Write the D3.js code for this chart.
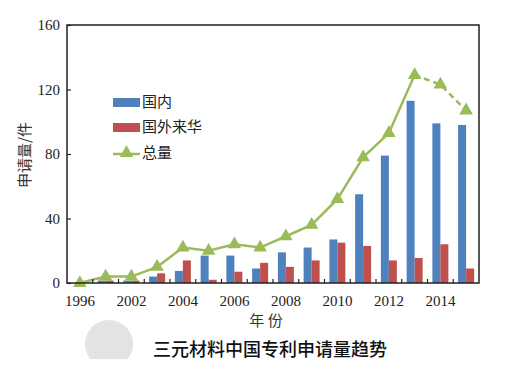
<!DOCTYPE html>
<html><head><meta charset="utf-8">
<script src="https://cdn.jsdelivr.net/npm/d3@7"></script>
<style>body{margin:0;background:#fff;}svg{display:block;}</style>
</head><body>
<svg id="c" width="516" height="369"></svg>
<script>
const years = ["1996","2001","2002","2003","2004","2005","2006","2007","2008","2009","2010","2011","2012","2013","2014","2015"];
const domestic = [0,1.5,1.5,4,7.5,17,17,9,19,22,27,55,79,113,99,98];
const foreign = [0,1.5,1.5,6,14,2,7,12.5,10,14,25,23,14,15.5,24,9];
const total = [0,4,4,10,22,20,24,22,29,36,52,78,93,129,123,107];
const yTicks = [0,40,80,120,160];
const labels = {series:["国内","国外来华","总量"], yTitle:"申请量/件", xTitle:"年 份", caption:"三元材料中国专利申请量趋势"};

const svg = d3.select("#c");
const m = {l:67, r:479, t:25, b:283};
const x = d3.scaleBand().domain(years).range([m.l, m.r]);
const y = d3.scaleLinear().domain([0,160]).range([m.b, m.t]);
const serif = "'Liberation Serif','Times New Roman',serif";
const cjk = "'Noto Sans CJK SC','Noto Sans',sans-serif";

// bars
const bw = 8;
svg.append("g").selectAll("rect").data(years).join("rect")
  .attr("x", d => x(d) + x.bandwidth()/2 - bw)
  .attr("y", (d,i) => y(domestic[i]))
  .attr("width", bw).attr("height", (d,i) => y(0)-y(domestic[i]))
  .attr("fill", "#4F81BD");
svg.append("g").selectAll("rect").data(years).join("rect")
  .attr("x", d => x(d) + x.bandwidth()/2)
  .attr("y", (d,i) => y(foreign[i]))
  .attr("width", bw).attr("height", (d,i) => y(0)-y(foreign[i]))
  .attr("fill", "#C0504D");

// line
const pts = years.map((d,i) => [x(d)+x.bandwidth()/2, y(total[i])]);
const line = d3.line();
svg.append("path").attr("d", line(pts.slice(0,14))).attr("fill","none")
  .attr("stroke","#9BBB59").attr("stroke-width",2.5);
svg.append("path").attr("d", line(pts.slice(13))).attr("fill","none")
  .attr("stroke","#9BBB59").attr("stroke-width",2.5).attr("stroke-dasharray","6,4");
const tri = d3.symbol().type(d3.symbolTriangle).size(80);
svg.append("g").selectAll("path").data(pts).join("path")
  .attr("d", tri).attr("transform", p => `translate(${p[0]},${p[1]})`)
  .attr("fill","#9BBB59");

// frame
svg.append("rect").attr("x",m.l).attr("y",m.t).attr("width",m.r-m.l).attr("height",m.b-m.t)
  .attr("fill","none").attr("stroke","#222").attr("stroke-width",1.5);

// y axis
const ya = svg.append("g").attr("transform",`translate(${m.l},0)`)
  .call(d3.axisLeft(y).tickValues(yTicks).tickSize(-4).tickPadding(7));
ya.select(".domain").remove();
ya.selectAll("line").attr("stroke","#222").attr("stroke-width",1.2);
ya.selectAll("text").attr("font-family",serif).attr("font-size",15).attr("fill","#222");

// x axis: ticks at category boundaries
const xa = svg.append("g").attr("transform",`translate(0,${m.b})`)
  .call(d3.axisBottom(x).tickSize(0).tickPadding(12).tickFormat((d,i)=> i%2===0 ? d : ""));
xa.select(".domain").remove();
xa.selectAll("text").attr("font-family",serif).attr("font-size",15).attr("fill","#222");
svg.append("g").selectAll("line").data(years.slice(1)).join("line")
  .attr("x1", d => x(d)).attr("x2", d => x(d))
  .attr("y1", m.b).attr("y2", m.b-4).attr("stroke","#222").attr("stroke-width",1.2);

// titles
svg.append("text").attr("transform","translate(26,155) rotate(-90)")
  .attr("text-anchor","middle").attr("dominant-baseline","middle")
  .attr("font-family",cjk).attr("font-size",15).attr("fill","#333").text(labels.yTitle);
svg.append("text").attr("x",266).attr("y",322).attr("text-anchor","middle")
  .attr("dominant-baseline","middle").attr("font-family",cjk).attr("font-size",15)
  .attr("fill","#333").text(labels.xTitle);

// legend
const lg = svg.append("g");
lg.append("rect").attr("x",113).attr("y",98).attr("width",27).attr("height",9).attr("fill","#4F81BD");
lg.append("rect").attr("x",113).attr("y",123).attr("width",27).attr("height",9).attr("fill","#C0504D");
lg.append("line").attr("x1",113).attr("x2",140).attr("y1",154).attr("y2",154)
  .attr("stroke","#9BBB59").attr("stroke-width",2.5);
lg.append("path").attr("d",tri).attr("transform","translate(126.5,153)").attr("fill","#9BBB59");
[[103,0],[128,1],[154,2]].forEach(([yy,i]) => {
  lg.append("text").attr("x",142).attr("y",yy).attr("dominant-baseline","middle")
    .attr("font-family",cjk).attr("font-size",15).attr("fill","#222").text(labels.series[i]);
});

// caption with decorative circle
svg.append("clipPath").attr("id","cc").append("rect").attr("x",0).attr("y",0).attr("width",516).attr("height",359);
svg.append("circle").attr("cx",109).attr("cy",344).attr("r",24).attr("fill","#e3e3e3").attr("clip-path","url(#cc)");
svg.append("text").attr("x",270).attr("y",351).attr("text-anchor","middle")
  .attr("dominant-baseline","middle").attr("font-family",cjk).attr("font-size",18)
  .attr("font-weight",500).attr("fill","#111").text(labels.caption);
</script>
</body></html>
